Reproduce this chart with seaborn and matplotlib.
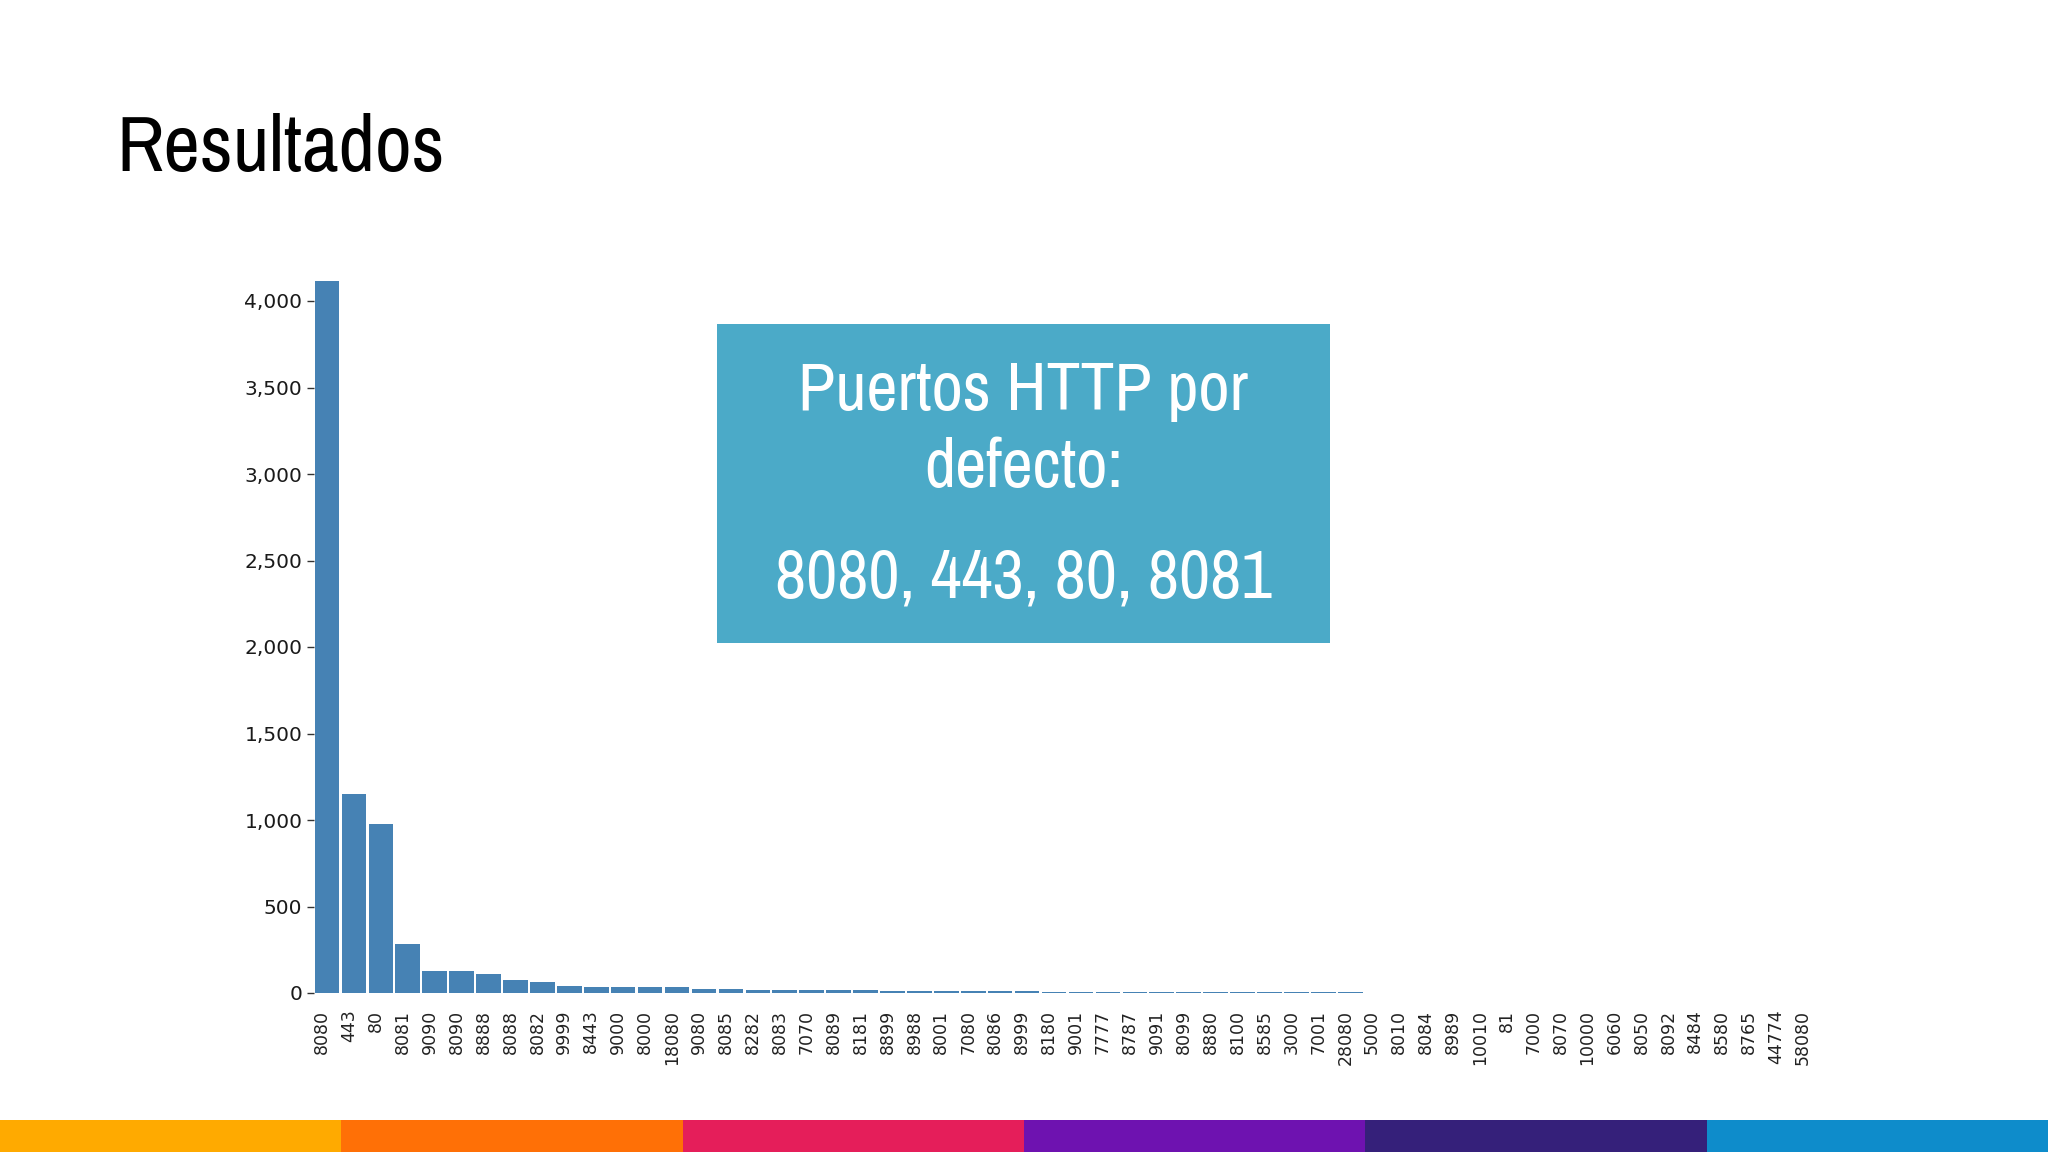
import math

import matplotlib
matplotlib.use("Agg")
import matplotlib.pyplot as plt
import matplotlib.transforms as mtransforms
from matplotlib import font_manager
from matplotlib.patches import Rectangle
from matplotlib.ticker import FuncFormatter
import seaborn as sns

# --- datos: puertos HTTP y número de hosts ---
ports = [
    "8080", "443", "80", "8081", "9090", "8090", "8888", "8088", "8082", "9999",
    "8443", "9000", "8000", "18080", "9080", "8085", "8282", "8083", "7070", "8089",
    "8181", "8899", "8988", "8001", "7080", "8086", "8999", "8180", "9001", "7777",
    "8787", "9091", "8099", "8880", "8100", "8585", "3000", "7001", "28080", "5000",
    "8010", "8084", "8989", "10010", "81", "7000", "8070", "10000", "6060", "8050",
    "8092", "8484", "8580", "8765", "44774", "58080",
]
counts = [
    4115, 1152, 979, 284, 130, 130, 107, 77, 61, 40,
    35, 35, 35, 35, 25, 25, 19, 15, 15, 15,
    15, 11, 11, 10, 10, 9, 9, 8, 8, 7,
    7, 6, 6, 5, 5, 5, 4, 4, 3, 1,
    1, 1, 1, 1, 1, 1, 1, 1, 1, 1,
    1, 1, 1, 1, 1, 1,
]
y_ticks = [0, 500, 1000, 1500, 2000, 2500, 3000, 3500, 4000]

title = "Resultados"
box_lines = ["Puertos HTTP por", "defecto:", "8080, 443, 80, 8081"]
strip_colors = ["#FFAA00", "#FF7006", "#E51E5A", "#6E12B0", "#35207A", "#0E8CCB"]

sns.set_style("white")
plt.rcParams["font.family"] = ["DejaVu Sans"]

# fuente estrecha si hay alguna instalada, si no Roboto
names = sorted({f.name for f in font_manager.fontManager.ttflist})
narrow = [n for n in names if "Condensed" in n or "Narrow" in n]
SLIDE_FONT = [narrow[0] if narrow else "Roboto", "DejaVu Sans"]

W, H = 2048, 1152
fig = plt.figure(figsize=(W / 100, H / 100), dpi=100)
fig.patch.set_facecolor("white")
renderer = fig.canvas.get_renderer()


def fitted_text(x, y, s, target_w, size_h, **kw):
    # tamaño entre el que iguala el ancho y el que iguala la altura
    t = fig.text(x, y, s, fontsize=size_h, **kw)
    w = t.get_window_extent(renderer).width
    t.set_fontsize(math.sqrt(size_h * size_h * target_w / w))
    return t


# eje del histograma (en píxeles del lienzo)
left, right = 313.5, 1821.5
bottom_px = 993
ymax = 4200
px_per_unit = (993 - 301) / 4000
top_px = bottom_px - ymax * px_per_unit
ax = fig.add_axes([left / W, 1 - bottom_px / H, (right - left) / W, (bottom_px - top_px) / H])

sns.barplot(x=ports, y=counts, order=ports, color="#4682B4", saturation=1,
            linewidth=0, width=0.91, ax=ax)
ax.set_xlim(-0.5, len(ports) - 0.5)
ax.set_ylim(0, ymax)
ax.set_yticks(y_ticks)
ax.yaxis.set_major_formatter(FuncFormatter(lambda v, _: f"{v:,.0f}"))
for s in ax.spines.values():
    s.set_visible(False)
ax.set_xlabel("")
ax.set_ylabel("")
ax.tick_params(axis="y", left=True, length=5, width=1, color="#333333",
               pad=3, labelsize=14.5, labelcolor="#1a1a1a")
ax.tick_params(axis="x", bottom=False, length=0, pad=12, labelsize=12.5,
               labelcolor="#222222")
shift = mtransforms.ScaledTranslation(-0.05, 0, fig.dpi_scale_trans)
for lab in ax.get_xticklabels():
    lab.set_rotation(90)
    lab.set_va("top")
    lab.set_ha("center")
    lab.set_transform(lab.get_transform() + shift)

# título de la diapositiva
fitted_text(116 / W, 1 - 171 / H, title, 305, 62, ha="left", va="baseline",
            color="black", family=SLIDE_FONT)

# recuadro azul con el texto
fig.patches.append(Rectangle((717 / W, 1 - 643 / H), 613 / W, 319 / H,
                             transform=fig.transFigure, facecolor="#4BAAC8",
                             edgecolor="none", zorder=5))
box_targets = [427, 187, 522]
box_texts = []
for txt, base, tw in zip(box_lines, [410, 487, 597], box_targets):
    box_texts.append(fitted_text(1023.5 / W, 1 - base / H, txt, tw, 50,
                                 ha="center", va="baseline", color="white",
                                 family=SLIDE_FONT, fontweight="light", zorder=6))
common = sum(t.get_fontsize() for t in box_texts) / len(box_texts)
for t in box_texts:
    t.set_fontsize(common)

# franja de colores inferior
seg = W / len(strip_colors)
for i, c in enumerate(strip_colors):
    fig.patches.append(Rectangle((i * seg / W, 0), seg / W, 32 / H,
                                 transform=fig.transFigure, facecolor=c,
                                 edgecolor="none", zorder=5))

fig.savefig("out.png", dpi=100)
